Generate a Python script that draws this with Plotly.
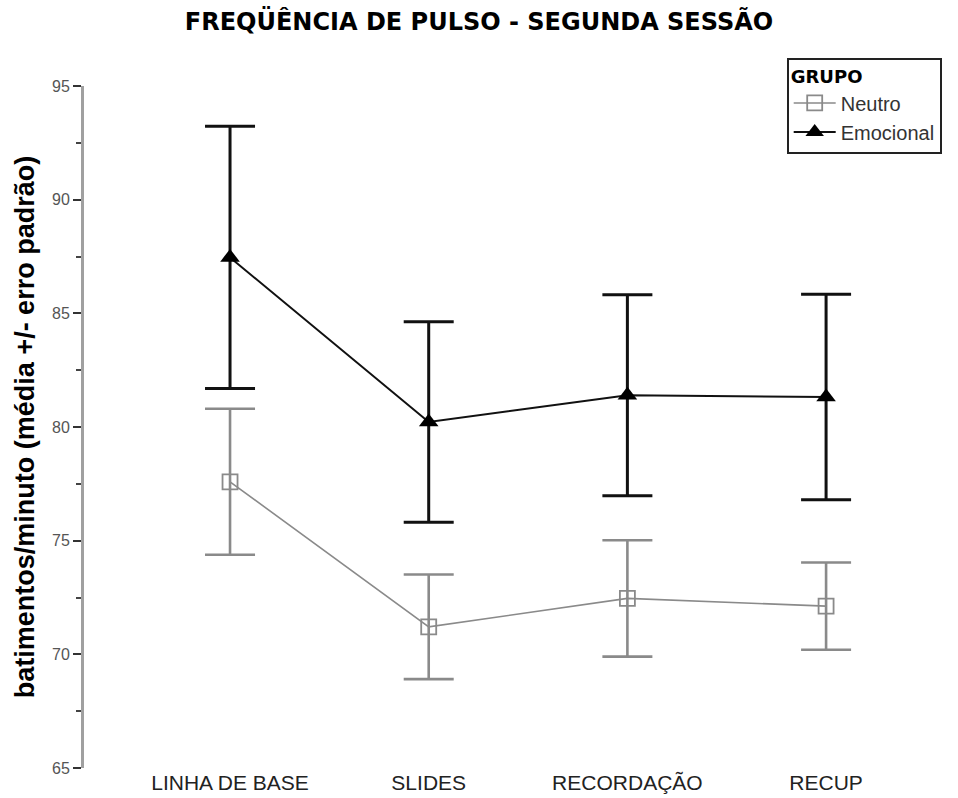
import plotly.graph_objects as go

# Phases of the session (x categories)
fases = ["LINHA DE BASE", "SLIDES", "RECORDAÇÃO", "RECUP"]

# Mean pulse rate and standard error per group
neutro_media = [77.59, 71.21, 72.46, 72.12]
neutro_erro = [3.21, 2.30, 2.56, 1.92]

emocional_media = [87.46, 80.22, 81.40, 81.32]
emocional_erro = [5.77, 4.41, 4.42, 4.52]

y_ticks = [65, 70, 75, 80, 85, 90, 95]

pos = list(range(len(fases)))

fig = go.Figure()

fig.add_trace(go.Scatter(
    x=pos, y=neutro_media, name="Neutro", mode="lines+markers",
    line=dict(color="#8a8a8a", width=1.6),
    marker=dict(symbol="square-open", size=15, color="#8a8a8a",
                line=dict(width=1.8, color="#8a8a8a")),
    error_y=dict(type="data", array=neutro_erro, visible=True,
                 color="#8a8a8a", thickness=2.6, width=25),
))

fig.add_trace(go.Scatter(
    x=pos, y=emocional_media, name="Emocional", mode="lines+markers",
    line=dict(color="#111111", width=2),
    marker=dict(symbol="triangle-up", size=17, color="#000000"),
    error_y=dict(type="data", array=emocional_erro, visible=True,
                 color="#111111", thickness=3, width=25),
))

fig.update_layout(
    width=958, height=798,
    margin=dict(l=84, r=0, t=86, b=30),
    paper_bgcolor="white", plot_bgcolor="white",
    showlegend=True,
    title=dict(
        text="<b>FREQÜÊNCIA DE PULSO - SEGUNDA SESSÃO</b>",
        x=0.5, xanchor="center", y=1 - 22 / 798, yanchor="middle",
        xref="container", yref="container",
        font=dict(family="DejaVu Sans, Liberation Sans", size=24, color="#000000"),
    ),
    legend=dict(
        title=dict(text="<b>GRUPO</b>",
                   font=dict(family="DejaVu Sans, Liberation Sans", size=18, color="#000")),
        x=0.804, y=1.041, xanchor="left", yanchor="top",
        bordercolor="#222222", borderwidth=2, bgcolor="white",
        font=dict(family="Liberation Sans", size=20, color="#333333"),
        tracegroupgap=0, itemwidth=42,
    ),
    xaxis=dict(
        range=[-0.735, 3.664], tickmode="array", tickvals=pos, ticktext=fases,
        showline=False, showgrid=False, zeroline=False, ticks="",
        tickfont=dict(family="Liberation Sans Narrow, Liberation Sans", size=21,
                      color="#222222"),
    ),
    yaxis=dict(
        range=[65, 95], tickmode="array", tickvals=y_ticks,
        showline=True, linecolor="#a0a0a0", linewidth=3,
        showgrid=False, zeroline=False,
        ticks="outside", ticklen=8, tickwidth=2, tickcolor="#333333",
        minor=dict(dtick=2.5, tick0=65, ticks="outside", ticklen=5,
                   tickwidth=2, tickcolor="#444444", showgrid=False),
        tickfont=dict(family="Liberation Sans", size=16, color="#555555"),
        title=dict(
            text="<b>batimentos/minuto (média +/- erro padrão)</b>",
            font=dict(family="Liberation Sans Narrow, Liberation Sans", size=27,
                      color="#000000"),
            standoff=10,
        ),
    ),
)

fig.write_html("out.html")
